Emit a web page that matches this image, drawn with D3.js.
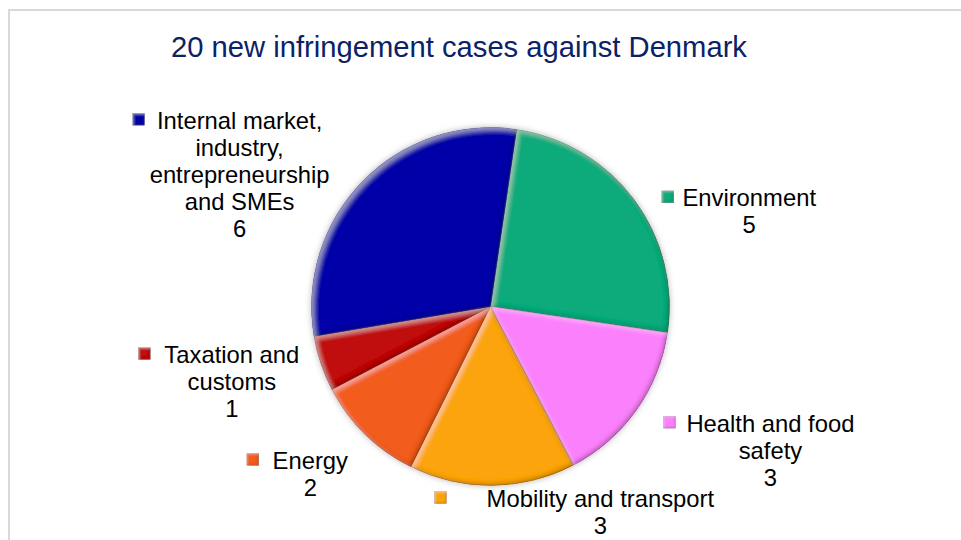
<!DOCTYPE html>
<html>
<head>
<meta charset="utf-8">
<script src="https://cdn.jsdelivr.net/npm/d3@7"></script>
<style>
  html, body { margin: 0; padding: 0; background: #fff; }
  svg { display: block; }
  text { font-family: "Liberation Sans", Arial, sans-serif; }
</style>
</head>
<body>
<svg id="chart" width="961" height="540"></svg>
<script>
// ---- data ----
const titleText = "20 new infringement cases against Denmark";
const categories = [
  "Environment",
  "Health and food safety",
  "Mobility and transport",
  "Energy",
  "Taxation and customs",
  "Internal market, industry, entrepreneurship and SMEs"
];
const values = [5, 3, 3, 2, 1, 6];
const labelLines = [
  ["Environment"],
  ["Health and food", "safety"],
  ["Mobility and transport"],
  ["Energy"],
  ["Taxation and", "customs"],
  ["Internal market,", "industry,", "entrepreneurship", "and SMEs"]
];
const colors = ["#0aab7c", "#fb80fb", "#fca40a", "#f25b1b", "#c00a0a", "#0606a8"];

// ---- layout (label offsets relative to arc outer point, marker offset relative to text centre) ----
const labelOffsets = [
  {dx: 115, dy: -2,  mdx: -81.5},
  {dx: 134, dy: 13,  mdx: -101},
  {dx: 108, dy: 13,  mdx: -160},
  {dx: -55, dy: 26,  mdx: -57.5},
  {dx: -89, dy: -9,  mdx: -87.5},
  {dx: -123, dy: -61, mdx: -101}
];

const svg = d3.select("#chart");
const W = 961, H = 540;
const cx = 490.5, cy = 306.5, R = 179;
const startDeg = 8.4;

const defs = svg.append("defs");
function makeBevel(id, blur, off, darkOp, lightOp) {
  const f = defs.append("filter").attr("id", id)
    .attr("x", "-10%").attr("y", "-10%").attr("width", "120%").attr("height", "120%");
  f.append("feGaussianBlur").attr("in", "SourceAlpha").attr("stdDeviation", blur).attr("result", "blur");
  f.append("feOffset").attr("in", "blur").attr("dx", -off).attr("dy", -off).attr("result", "offA");
  f.append("feComposite").attr("in", "SourceAlpha").attr("in2", "offA").attr("operator", "out").attr("result", "edgeDark");
  f.append("feFlood").attr("flood-color", "#000").attr("flood-opacity", darkOp).attr("result", "black");
  f.append("feComposite").attr("in", "black").attr("in2", "edgeDark").attr("operator", "in").attr("result", "dark");
  f.append("feOffset").attr("in", "blur").attr("dx", off).attr("dy", off).attr("result", "offB");
  f.append("feComposite").attr("in", "SourceAlpha").attr("in2", "offB").attr("operator", "out").attr("result", "edgeLight");
  f.append("feFlood").attr("flood-color", "#fff").attr("flood-opacity", lightOp).attr("result", "white");
  f.append("feComposite").attr("in", "white").attr("in2", "edgeLight").attr("operator", "in").attr("result", "light");
  const m = f.append("feMerge").attr("result", "merged");
  m.append("feMergeNode").attr("in", "SourceGraphic");
  m.append("feMergeNode").attr("in", "dark");
  m.append("feMergeNode").attr("in", "light");
  f.append("feComposite").attr("in", "merged").attr("in2", "SourceAlpha").attr("operator", "in");
}
makeBevel("bevel", 2.2, 2.5, 0.5, 0.3);
makeBevel("bevelSmall", 1, 1.2, 0.4, 0.3);

const shadow = defs.append("filter").attr("id", "shadow")
  .attr("x", "-10%").attr("y", "-10%").attr("width", "120%").attr("height", "120%");
shadow.append("feDropShadow").attr("dx", 0).attr("dy", 0).attr("stdDeviation", 3)
  .attr("flood-color", "#000").attr("flood-opacity", 0.3);

// frame
svg.append("rect")
  .attr("x", 9).attr("y", 10).attr("width", W + 20).attr("height", H + 20)
  .attr("fill", "#fff").attr("stroke", "#d9d9d9").attr("stroke-width", 2);

// title
svg.append("text")
  .attr("x", 459).attr("y", 57)
  .attr("text-anchor", "middle")
  .attr("font-size", 29.2)
  .attr("fill", "#0b2266")
  .text(titleText);

// pie
const data = categories.map((c, i) => ({cat: c, value: values[i], color: colors[i], lines: labelLines[i], off: labelOffsets[i]}));
const pie = d3.pie().sort(null).value(d => d.value)
  .startAngle(startDeg * Math.PI / 180)
  .endAngle(startDeg * Math.PI / 180 + 2 * Math.PI);
const arcs = pie(data);
const arc = d3.arc().innerRadius(0).outerRadius(R);

const g = svg.append("g").attr("transform", `translate(${cx},${cy})`);
const shadowG = g.append("g").attr("filter", "url(#shadow)");
shadowG.selectAll("path.base").data(arcs).join("path")
  .attr("class", "base").attr("d", arc).attr("fill", d => d.data.color);
g.selectAll("path.slice").data(arcs).join("path")
  .attr("class", "slice")
  .attr("d", arc)
  .attr("fill", d => d.data.color)
  .attr("stroke", d => d3.color(d.data.color).darker(1))
  .attr("stroke-width", 0.7)
  .attr("filter", "url(#bevel)");

// labels
const lineH = 27;
const fs = 23.8;
arcs.forEach(a => {
  const mid = (a.startAngle + a.endAngle) / 2;
  const px = cx + R * Math.sin(mid);
  const py = cy - R * Math.cos(mid);
  const tx = px + a.data.off.dx;
  const ty = py + a.data.off.dy; // centre of first line
  const lbl = svg.append("g");
  const lines = a.data.lines.concat([String(a.data.value)]);
  lines.forEach((ln, k) => {
    lbl.append("text")
      .attr("x", tx).attr("y", ty + k * lineH + 8.5)
      .attr("text-anchor", "middle")
      .attr("font-size", fs)
      .attr("fill", "#000")
      .text(ln);
  });
  const ms = 12;
  lbl.append("rect")
    .attr("x", tx + a.data.off.mdx - ms / 2)
    .attr("y", ty - ms / 2 - 1)
    .attr("width", ms).attr("height", ms)
    .attr("fill", a.data.color)
    .attr("stroke", d3.color(a.data.color).darker(1))
    .attr("stroke-width", 0.6)
    .attr("filter", "url(#bevelSmall)");
});
</script>
</body>
</html>
